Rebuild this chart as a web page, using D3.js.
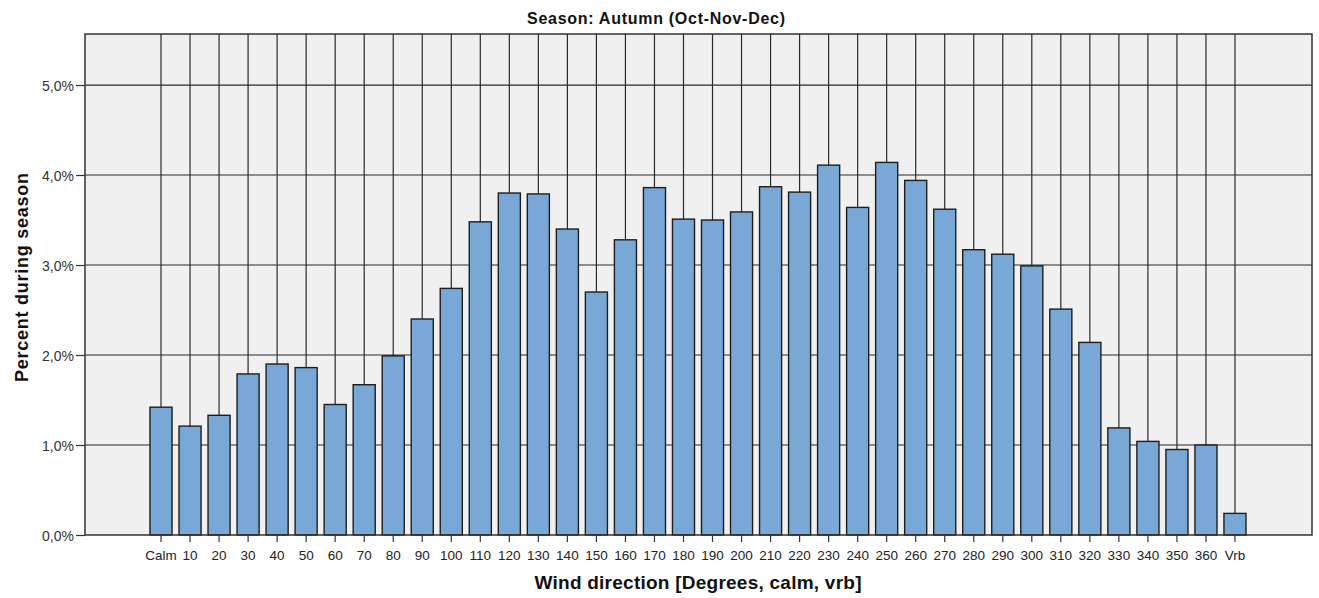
<!DOCTYPE html>
<html><head><meta charset="utf-8">
<script src="https://cdn.jsdelivr.net/npm/d3@7"></script>
<style>body{margin:0;background:#fff;font-family:Arial,"Liberation Sans",sans-serif}</style>
</head><body><svg id="c" width="1319" height="598"></svg>
<script>
const categories = ["Calm","10","20","30","40","50","60","70","80","90","100","110","120","130","140","150","160","170","180","190","200","210","220","230","240","250","260","270","280","290","300","310","320","330","340","350","360","Vrb"];
const percents = [1.42,1.21,1.33,1.79,1.90,1.86,1.45,1.67,1.99,2.40,2.74,3.48,3.80,3.79,3.40,2.70,3.28,3.86,3.51,3.50,3.59,3.87,3.81,4.11,3.64,4.14,3.94,3.62,3.17,3.12,2.99,2.51,2.14,1.19,1.04,0.95,1.00,0.24];
const yTicks = [0,1,2,3,4,5];

const FONT = "Arial, Liberation Sans, sans-serif";
const svg = d3.select("#c");
const L=85, R=1312, T=34, B=535;
const y = d3.scaleLinear().domain([0,5.567]).range([B,T]);
const x = d3.scaleBand().domain(categories).range([146.5,1249.5]).paddingInner(0.24).paddingOuter(0.12);
const cx = d => x(d)+x.bandwidth()/2;

svg.append("rect").attr("x",L).attr("y",T).attr("width",R-L).attr("height",B-T).attr("fill","#f0f0f0");
// grid
svg.append("g").selectAll("line").data(yTicks.slice(1)).join("line")
  .attr("x1",L).attr("x2",R).attr("y1",d=>y(d)).attr("y2",d=>y(d))
  .attr("stroke","#2a2a2a").attr("stroke-width",1.2);
svg.append("g").selectAll("line").data(categories).join("line")
  .attr("x1",d=>cx(d)).attr("x2",d=>cx(d)).attr("y1",T).attr("y2",B)
  .attr("stroke","#2a2a2a").attr("stroke-width",1.2);
// bars
svg.append("g").selectAll("rect").data(percents).join("rect")
  .attr("x",(d,i)=>x(categories[i])).attr("width",x.bandwidth())
  .attr("y",d=>y(d)).attr("height",d=>B-y(d))
  .attr("fill","#79a8d6").attr("stroke","#1e1e1e").attr("stroke-width",1.4);
// frame
svg.append("rect").attr("x",L).attr("y",T).attr("width",R-L).attr("height",B-T)
  .attr("fill","none").attr("stroke","#333").attr("stroke-width",1.5);
// axes
const ya = svg.append("g").attr("transform",`translate(${L},0)`)
  .call(d3.axisLeft(y).tickValues(yTicks).tickSize(9).tickFormat(d=>d.toFixed(1).replace(".",",")+"%"));
ya.attr("font-size",14).attr("font-family",FONT);
ya.select(".domain").remove();
ya.selectAll("line").attr("stroke","#333").attr("stroke-width",1.2);
ya.selectAll("text").attr("fill","#333").attr("x",-11).attr("dy","0.36em");
const xa = svg.append("g").attr("transform",`translate(0,${B})`)
  .call(d3.axisBottom(x).tickSize(7).tickPadding(8));
xa.attr("font-size",13.5).attr("font-family",FONT);
xa.select(".domain").remove();
xa.selectAll("line").attr("stroke","#333").attr("stroke-width",1.2);
xa.selectAll("text").attr("fill","#222");
// titles
svg.append("text").attr("x",656).attr("y",24).attr("text-anchor","middle")
  .attr("font-size",16).attr("font-weight","bold").attr("fill","#111").attr("font-family",FONT)
  .attr("textLength",258).attr("lengthAdjust","spacing").text("Season: Autumn (Oct-Nov-Dec)");
svg.append("text").attr("x",698).attr("y",589).attr("text-anchor","middle")
  .attr("font-size",19).attr("font-weight","bold").attr("fill","#111").attr("font-family",FONT)
  .attr("textLength",327).attr("lengthAdjust","spacing").text("Wind direction [Degrees, calm, vrb]");
svg.append("text").attr("transform","translate(28,277.5) rotate(-90)").attr("text-anchor","middle")
  .attr("font-size",18).attr("font-weight","bold").attr("fill","#111").attr("font-family",FONT)
  .attr("textLength",209).attr("lengthAdjust","spacing").text("Percent during season");
</script></body></html>
